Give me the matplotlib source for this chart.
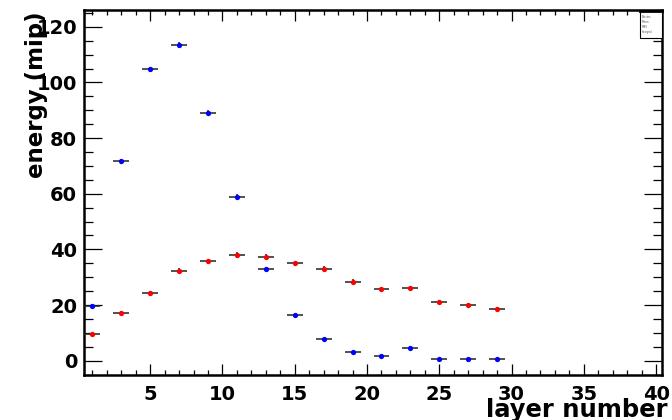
import matplotlib
matplotlib.use("Agg")
import matplotlib.pyplot as plt
from matplotlib.ticker import MultipleLocator
from matplotlib.patches import Rectangle

# layer centres (bins of width 2)
layers = [1, 3, 5, 7, 9, 11, 13, 15, 17, 19, 21, 23, 25, 27, 29]

# blue series
blue_energy = [19.8, 71.6, 104.8, 113.4, 89.1, 59.0, 33.1, 16.4, 7.9, 3.2, 1.7, 4.5, 0.5, 0.5, 0.5]
blue_err = [0.5, 0.8, 0.9, 1.0, 0.9, 0.8, 0.6, 0.5, 0.4, 0.3, 0.3, 0.3, 0.2, 0.2, 0.2]

# red series
red_energy = [9.5, 17.2, 24.2, 32.3, 35.8, 37.9, 37.4, 35.0, 33.1, 28.4, 25.8, 26.1, 21.2, 19.9, 18.7]
red_err = [0.6, 0.7, 0.8, 0.9, 0.9, 1.0, 1.0, 0.9, 0.9, 0.8, 0.8, 0.8, 0.7, 0.7, 0.7]

layer_halfwidth = 0.55

plt.rcParams['font.family'] = ['DejaVu Sans']
plt.rcParams['font.weight'] = 'bold'

fig = plt.figure(figsize=(6.72, 4.2), dpi=100)
ax = fig.add_axes([0.125, 0.106, 0.860, 0.870])

for energy, err, col in [(blue_energy, blue_err, '#0000ff'), (red_energy, red_err, '#ff0000')]:
    ax.errorbar(layers, energy, xerr=layer_halfwidth, yerr=err, fmt='o', color=col,
                markersize=3.8, markeredgewidth=0, ecolor='#222222', elinewidth=1.1,
                capsize=0, zorder=3)

ax.set_xlim(0.42, 40.4)
ax.set_ylim(-5.3, 126.0)

ax.xaxis.set_major_locator(MultipleLocator(5))
ax.xaxis.set_minor_locator(MultipleLocator(1))
ax.yaxis.set_major_locator(MultipleLocator(20))
ax.yaxis.set_minor_locator(MultipleLocator(5))

ax.tick_params(axis='both', which='both', direction='in', top=True, right=True,
               color='black', width=0.9)
ax.tick_params(axis='y', which='major', length=12.7, pad=5, labelsize=14)
ax.tick_params(axis='y', which='minor', length=6.7)
ax.tick_params(axis='x', which='major', length=7.7, pad=6.5, labelsize=14)
ax.tick_params(axis='x', which='minor', length=3.6)

for lab in ax.get_xticklabels() + ax.get_yticklabels():
    lab.set_fontweight('bold')

for s in ax.spines.values():
    s.set_linewidth(1.8)
    s.set_color('black')

# axis titles, ROOT-style placement
fig.text(668 / 672, 3 / 420, "layer number", ha='right', va='baseline',
         fontsize=17.5, fontweight='bold')
fig.text(43 / 672, 1 - 11 / 420, "energy (mip)", rotation=90, rotation_mode='anchor',
         ha='right', va='baseline', fontsize=16.5, fontweight='bold')

# small stats box in the corner
box = Rectangle((640 / 672, 1 - 38 / 420), 22 / 672, 28 / 420, transform=fig.transFigure,
                facecolor='white', edgecolor='black', linewidth=0.8, zorder=5)
fig.patches.append(box)
fig.add_artist(plt.Line2D([640 / 672, 662 / 672], [1 - 11 / 420, 1 - 11 / 420],
                          transform=fig.transFigure, color='black', linewidth=2, zorder=6))
stats = ["Entries", "Mean", "RMS", "Integral"]
for i, s in enumerate(stats):
    fig.text(642 / 672, 1 - (17 + 5 * i) / 420, s, fontsize=2, fontweight='normal',
             va='center', ha='left', color='#555555', zorder=7)

fig.savefig("out.png", dpi=100)
